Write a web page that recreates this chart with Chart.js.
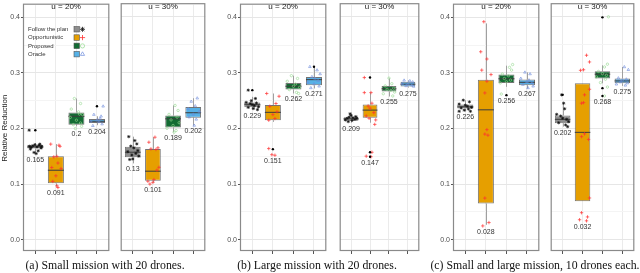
<!DOCTYPE html>
<html>
<head>
<meta charset="utf-8">
<script src="https://cdn.jsdelivr.net/npm/chart.js@4.4.0/dist/chart.umd.min.js"></script>
<style>
  body { margin:0; background:#fff; width:640px; height:273px; overflow:hidden; position:relative; }
  canvas { position:absolute; top:0; }
  .cap { position:absolute; top:259px; width:300px; text-align:center; white-space:nowrap;
         font-family:"Liberation Serif","Times New Roman",serif; font-size:11.8px; line-height:13px; color:#111; }
</style>
</head>
<body>
<canvas id="a20" width="114" height="273" style="left:0px"></canvas>
<canvas id="a30" width="94" height="273" style="left:116px"></canvas>
<canvas id="b20" width="109" height="273" style="left:222px"></canvas>
<canvas id="b30" width="89" height="273" style="left:335px"></canvas>
<canvas id="c20" width="109" height="273" style="left:435px"></canvas>
<canvas id="c30" width="93" height="273" style="left:546px"></canvas>
<div class="cap" id="capA" style="left:-45px"></div>
<div class="cap" id="capB" style="left:167px"></div>
<div class="cap" id="capC" style="left:385px"></div>
<script>
const groups = ['Follow the plan', 'Opportunistic', 'Proposed', 'Oracle'];
const facetNames = ['u = 20%', 'u = 30%'];
const captions = ['(a) Small mission with 20 drones.', '(b) Large mission with 20 drones.', '(c) Small and large mission, 10 drones each.'];
const yTickLabels = [0.0, 0.1, 0.2, 0.3, 0.4];
const yTitle = 'Relative Reduction';

// box stats per group: [lower whisker, q1, median, q3, upper whisker]
const boxA20 = [[0.157,0.164,0.167,0.171,0.174],[0.096,0.1015,0.125,0.150,0.172],[0.204,0.207,0.222,0.229,0.254],[0.206,0.210,0.213,0.217,0.222]];
const boxA30 = [[0.137,0.148,0.157,0.167,0.185],[0.103,0.106,0.123,0.163,0.184],[0.193,0.2014,0.217,0.223,0.241],[0.205,0.219,0.228,0.238,0.254]];
const boxB20 = [[0.234,0.2384,0.243,0.247,0.257],[0.212,0.215,0.229,0.2425,0.263],[0.263,0.270,0.276,0.282,0.295],[0.272,0.2777,0.288,0.2925,0.311]];
const boxB30 = [[0.210,0.2135,0.217,0.220,0.226],[0.210,0.219,0.2326,0.2425,0.264],[0.257,0.266,0.271,0.276,0.2895],[0.273,0.2749,0.279,0.2837,0.286]];
const boxC20 = [[0.231,0.236,0.239,0.243,0.251],[0.027,0.0652,0.2337,0.2877,0.389],[0.275,0.282,0.2895,0.297,0.313],[0.272,0.278,0.283,0.288,0.301]];
const boxC30 = [[0.203,0.209,0.216,0.223,0.245],[0.0692,0.0692,0.1926,0.2807,0.2807],[0.2807,0.2895,0.297,0.3024,0.313],[0.276,0.2807,0.285,0.2895,0.31]];

// numbers printed under each box
const labA20 = [0.165, 0.091, 0.2, 0.204];
const labA30 = [0.13, 0.101, 0.189, 0.202];
const labB20 = [0.229, 0.151, 0.262, 0.271];
const labB30 = [0.209, 0.147, 0.255, 0.275];
const labC20 = [0.226, 0.028, 0.256, 0.267];
const labC30 = [0.202, 0.032, 0.268, 0.275];

// outliers: [group, value]
const outA20 = [[0,0.197],[3,0.240]];
const outA30 = [];
const outB20 = [[0,0.269],[1,0.163],[3,0.311]];
const outB30 = [[1,0.291],[1,0.157],[1,0.149]];
const outC20 = [[2,0.26]];
const outC30 = [[0,0.26],[2,0.399],[2,0.272],[2,0.258]];

// jittered runs per group: [x offset, value]
const ptsA20 = [
  [[-0.3,0.197],[-0.28,0.168],[-0.2,0.166],[-0.12,0.169],[-0.02,0.171],[0.08,0.167],[0.18,0.170],[0.28,0.165],[-0.24,0.163],[0.14,0.160],[-0.06,0.157],[0.22,0.172],[0.04,0.155],[0.3,0.168]],
  [[-0.25,0.172],[0.15,0.170],[0.2,0.168],[0.05,0.150],[-0.1,0.149],[0.1,0.138],[-0.2,0.130],[0.25,0.128],[0,0.115],[-0.15,0.105],[0.05,0.097],[0.1,0.094]],
  [[-0.1,0.254],[0.2,0.245],[-0.25,0.235],[0.1,0.230],[0.3,0.225],[-0.3,0.22],[0,0.215],[0.2,0.21],[-0.15,0.207],[0.25,0.204],[-0.05,0.2],[0.15,0.226]],
  [[-0.15,0.225],[0.2,0.222],[0.3,0.24],[-0.3,0.213],[0.1,0.212],[0,0.215],[0.25,0.208],[-0.2,0.205],[0.15,0.218]]
];
const ptsA30 = [
  [[-0.2,0.185],[0.1,0.178],[0.2,0.172],[-0.1,0.168],[0.05,0.165],[0.25,0.16],[-0.25,0.158],[0.15,0.155],[-0.05,0.152],[0.3,0.15],[0,0.145],[-0.15,0.144]],
  [[-0.2,0.175],[0.1,0.184],[0.25,0.165],[-0.1,0.163],[0.15,0.162],[0.3,0.13],[0.2,0.125],[-0.25,0.105],[0,0.103],[-0.15,0.1],[0.05,0.108]],
  [[0.1,0.241],[0.25,0.232],[-0.2,0.225],[0.2,0.22],[-0.1,0.215],[0.3,0.21],[0,0.205],[-0.3,0.2],[0.15,0.196],[0.05,0.193]],
  [[0.2,0.254],[-0.1,0.248],[0.1,0.24],[-0.25,0.235],[0.3,0.23],[0,0.225],[-0.2,0.22],[0.15,0.216],[0.05,0.205]]
];
const ptsB20 = [
  [[-0.2,0.269],[-0.3,0.247],[-0.1,0.245],[0,0.243],[0.1,0.241],[0.2,0.246],[0.3,0.239],[-0.2,0.238],[0.05,0.236],[0.25,0.234],[-0.05,0.25],[0.15,0.254]],
  [[-0.3,0.263],[0.3,0.258],[0.15,0.245],[-0.15,0.24],[0.2,0.23],[0,0.225],[0.1,0.218],[-0.2,0.215],[-0.2,0.164],[0.1,0.152],[-0.05,0.153]],
  [[-0.1,0.295],[0.2,0.29],[-0.3,0.285],[0.1,0.28],[0,0.276],[0.3,0.274],[-0.2,0.27],[0.15,0.265],[0.25,0.263]],
  [[-0.2,0.311],[0.15,0.305],[0.3,0.298],[-0.1,0.293],[0.05,0.29],[0.2,0.286],[-0.3,0.283],[0,0.28],[0.25,0.276],[-0.15,0.273]]
];
const ptsB30 = [
  [[-0.3,0.215],[-0.2,0.218],[-0.1,0.22],[0,0.223],[0.1,0.219],[0.2,0.216],[0.3,0.218],[-0.15,0.212],[0.05,0.214],[0.25,0.221],[-0.05,0.226]],
  [[-0.3,0.291],[-0.3,0.264],[0.05,0.264],[0.1,0.245],[-0.1,0.24],[0,0.236],[0.2,0.228],[-0.2,0.222],[0.3,0.215],[0.25,0.207],[-0.05,0.218],[0.1,0.157],[-0.2,0.150],[0.05,0.149]],
  [[0,0.29],[0.15,0.28],[-0.2,0.276],[0.25,0.272],[-0.1,0.27],[0.1,0.268],[0.3,0.265],[-0.3,0.262],[0.2,0.258]],
  [[-0.2,0.286],[0.1,0.285],[0.25,0.283],[-0.3,0.28],[0,0.279],[0.2,0.277],[-0.1,0.276],[0.3,0.275]]
];
const ptsC20 = [
  [[-0.1,0.251],[0.2,0.248],[-0.3,0.244],[0,0.242],[0.1,0.24],[0.3,0.238],[-0.2,0.237],[0.15,0.235],[-0.05,0.233],[0.25,0.231],[-0.3,0.231]],
  [[-0.1,0.392],[-0.25,0.338],[0.05,0.325],[-0.2,0.305],[0.25,0.297],[0.05,0.285],[-0.05,0.264],[0.05,0.198],[-0.05,0.19],[0.1,0.188],[-0.05,0.075],[-0.15,0.025],[0.15,0.031]],
  [[0.3,0.315],[0.15,0.31],[0.25,0.305],[-0.2,0.298],[0.1,0.295],[-0.1,0.29],[0.2,0.287],[0,0.284],[-0.3,0.282],[-0.25,0.262]],
  [[-0.1,0.301],[0.15,0.298],[-0.3,0.29],[0.1,0.287],[0,0.284],[0.25,0.282],[-0.2,0.279],[0.3,0.276],[0.05,0.273]]
];
const ptsC30 = [
  [[-0.05,0.26],[0.05,0.245],[0.1,0.235],[-0.3,0.225],[-0.1,0.222],[0,0.218],[0.2,0.216],[0.3,0.212],[-0.2,0.21],[0.15,0.206],[0.25,0.203]],
  [[0.2,0.331],[0.35,0.319],[-0.1,0.304],[0.05,0.305],[0.35,0.27],[0.1,0.26],[-0.05,0.245],[0.05,0.246],[0.1,0.19],[-0.05,0.185],[0.3,0.18],[0.35,0.075],[-0.05,0.0486],[0.25,0.041],[-0.15,0.036],[0.2,0.034]],
  [[0.3,0.40],[0.25,0.315],[0.1,0.31],[-0.2,0.302],[0,0.298],[0.2,0.295],[-0.3,0.292],[0.15,0.288],[-0.1,0.282],[0.25,0.274],[0.1,0.258]],
  [[0.1,0.31],[0.3,0.305],[-0.2,0.29],[0.2,0.288],[0,0.286],[-0.1,0.283],[0.25,0.281],[-0.3,0.279],[0.15,0.277]]
];

const boxColors = ['#8e8e8e', '#e69f00', '#136b33', '#56b1e6'];
const pointStyles = [
  {pointStyle:'star', radius:1.6, borderColor:'#111', backgroundColor:'#111', borderWidth:0.7},
  {pointStyle:'cross', radius:1.7, borderColor:'#ff3030', backgroundColor:'#ff3030', borderWidth:0.7},
  {pointStyle:'circle', radius:1.2, borderColor:'#93d98e', backgroundColor:'rgba(0,0,0,0)', borderWidth:0.6},
  {pointStyle:'triangle', radius:1.5, borderColor:'#6d8cdc', backgroundColor:'rgba(0,0,0,0)', borderWidth:0.6}
];
const FONT = '"Liberation Sans", Arial, sans-serif';
Chart.defaults.font.family = FONT;

const isMajor = v => yTickLabels.some(t => Math.abs(t - v) < 1e-6);

function symbol(ctx, st, x, y) {
  ctx.save();
  ctx.strokeStyle = st.borderColor; ctx.fillStyle = st.backgroundColor; ctx.lineWidth = st.borderWidth + 0.1;
  if (Chart.helpers && Chart.helpers.drawPoint) {
    Chart.helpers.drawPoint(ctx, {pointStyle: st.pointStyle, radius: st.radius + 0.9, borderWidth: st.borderWidth, rotation: 0}, x, y);
  }
  ctx.restore();
}

function facetPlugin(f) {
  return {
    id: 'facet_' + f.id,
    beforeDatasetsDraw(chart) {
      const {ctx, scales: {x, y}} = chart;
      ctx.save();
      ctx.strokeStyle = '#a0a0a0'; ctx.lineWidth = 1;
      f.box.forEach((b, i) => {
        const px = Math.round(x.getPixelForValue(i)) + 0.5;
        ctx.beginPath();
        ctx.moveTo(px, y.getPixelForValue(b[0])); ctx.lineTo(px, y.getPixelForValue(b[1]));
        ctx.moveTo(px, y.getPixelForValue(b[3])); ctx.lineTo(px, y.getPixelForValue(b[4]));
        ctx.stroke();
      });
      ctx.restore();
    },
    afterDatasetDraw(chart, args) {
      if (args.index !== 0) return;
      const {ctx, scales: {y}} = chart;
      ctx.save();
      ctx.strokeStyle = 'rgba(60,60,60,0.85)'; ctx.lineWidth = 1.2;
      args.meta.data.forEach((bar, i) => {
        const p = bar.getProps(['x', 'width'], true);
        const py = y.getPixelForValue(f.box[i][2]);
        ctx.beginPath(); ctx.moveTo(p.x - p.width / 2, py); ctx.lineTo(p.x + p.width / 2, py); ctx.stroke();
      });
      ctx.restore();
    },
    afterDraw(chart) {
      const {ctx, chartArea: a, scales: {x, y}} = chart;
      ctx.save();
      ctx.strokeStyle = '#8a8a8a'; ctx.lineWidth = 1.2;
      ctx.strokeRect(a.left + 0.5, a.top - 1, a.right - a.left - 1, a.bottom - a.top + 0.5);
      ctx.fillStyle = '#1a1a1a'; ctx.font = '8px ' + FONT;
      ctx.textAlign = 'center'; ctx.textBaseline = 'middle';
      ctx.fillText(f.strip, (a.left + a.right) / 2, 6.5);
      ctx.fillStyle = '#333'; ctx.font = '7px ' + FONT;
      f.lab.forEach((v, i) => {
        let low = f.box[i][0];
        f.pts[i].forEach(p => { low = Math.min(low, p[1]); });
        f.out.forEach(o => { if (o[0] === i) low = Math.min(low, o[1]); });
        ctx.fillText(String(v), x.getPixelForValue(i), y.getPixelForValue(low) + 6);
      });
      if (f.legend) {
        ctx.font = '6px ' + FONT; ctx.textAlign = 'left';
        groups.forEach((g, i) => {
          const ly = 29.3 + i * 8.3;
          ctx.fillStyle = '#333';
          ctx.fillText(g, a.left + 5, ly);
          ctx.fillStyle = boxColors[i]; ctx.strokeStyle = '#555'; ctx.lineWidth = 0.6;
          ctx.fillRect(a.left + 51, ly - 2.8, 5.5, 5.5);
          ctx.strokeRect(a.left + 51, ly - 2.8, 5.5, 5.5);
          symbol(ctx, pointStyles[i], a.left + 59.5, ly);
        });
      }
      ctx.restore();
    }
  };
}

function drawFacet(f) {
  const datasets = [{
    type: 'bar', order: 10,
    data: f.box.map((b, i) => ({x: i, y: [b[1], b[3]]})),
    backgroundColor: boxColors, borderColor: 'rgba(70,70,70,0.75)', borderWidth: 1,
    borderSkipped: false, barPercentage: 0.78, categoryPercentage: 1
  }, {
    type: 'scatter', order: 0,
    data: f.out.map(o => ({x: o[0], y: o[1]})),
    pointRadius: 1.2, pointBackgroundColor: '#000', pointBorderWidth: 0
  }];
  f.pts.forEach((pts, g) => {
    const st = pointStyles[g];
    datasets.push({
      type: 'scatter', order: 1 + g,
      data: pts.map(p => ({x: g + p[0], y: p[1]})),
      pointStyle: st.pointStyle, pointRadius: st.radius, pointBorderColor: st.borderColor,
      pointBackgroundColor: st.backgroundColor, pointBorderWidth: st.borderWidth
    });
  });
  new Chart(document.getElementById(f.id), {
    type: 'bar',
    data: {datasets},
    options: {
      responsive: false, animation: false, events: [],
      layout: {padding: {left: 0, right: 1, top: 0, bottom: 0}},
      plugins: {legend: {display: false}, tooltip: {enabled: false}},
      scales: {
        x: {
          type: 'linear', min: -0.6, max: 3.6, offset: false,
          grid: {offset: false, color: '#ebebeb', tickColor: '#555', tickLength: 3},
          border: {display: false},
          ticks: {stepSize: 1, includeBounds: false, autoSkip: false, maxRotation: 0, callback: () => ''},
          afterFit: s => { s.height = 22; }
        },
        y: {
          type: 'linear', min: -0.0201, max: 0.4217,
          grid: {
            color: c => isMajor(c.tick.value) ? '#e6e6e6' : '#f4f4f4',
            tickColor: c => isMajor(c.tick.value) ? '#555' : 'rgba(0,0,0,0)',
            tickLength: 2, drawTicks: f.yw > 0
          },
          border: {display: false},
          ticks: {
            display: f.yw > 0, stepSize: 0.05, includeBounds: false, padding: 1, color: '#4d4d4d',
            font: {size: 7}, autoSkip: false,
            callback: v => isMajor(v) ? v.toFixed(1) : ''
          },
          title: {display: !!f.title, text: yTitle, color: '#222', font: {size: 8}, padding: {top: 0, bottom: 0}},
          afterFit: s => { s.width = f.yw; }
        }
      }
    },
    plugins: [facetPlugin(f)]
  });
}

[
  {id: 'a20', strip: facetNames[0], box: boxA20, lab: labA20, out: outA20, pts: ptsA20, yw: 23, title: true, legend: true},
  {id: 'a30', strip: facetNames[1], box: boxA30, lab: labA30, out: outA30, pts: ptsA30, yw: 0},
  {id: 'b20', strip: facetNames[0], box: boxB20, lab: labB20, out: outB20, pts: ptsB20, yw: 18},
  {id: 'b30', strip: facetNames[1], box: boxB30, lab: labB30, out: outB30, pts: ptsB30, yw: 0},
  {id: 'c20', strip: facetNames[0], box: boxC20, lab: labC20, out: outC20, pts: ptsC20, yw: 18},
  {id: 'c30', strip: facetNames[1], box: boxC30, lab: labC30, out: outC30, pts: ptsC30, yw: 0}
].forEach(drawFacet);

document.getElementById('capA').textContent = captions[0];
document.getElementById('capB').textContent = captions[1];
document.getElementById('capC').textContent = captions[2];
</script>
</body>
</html>
